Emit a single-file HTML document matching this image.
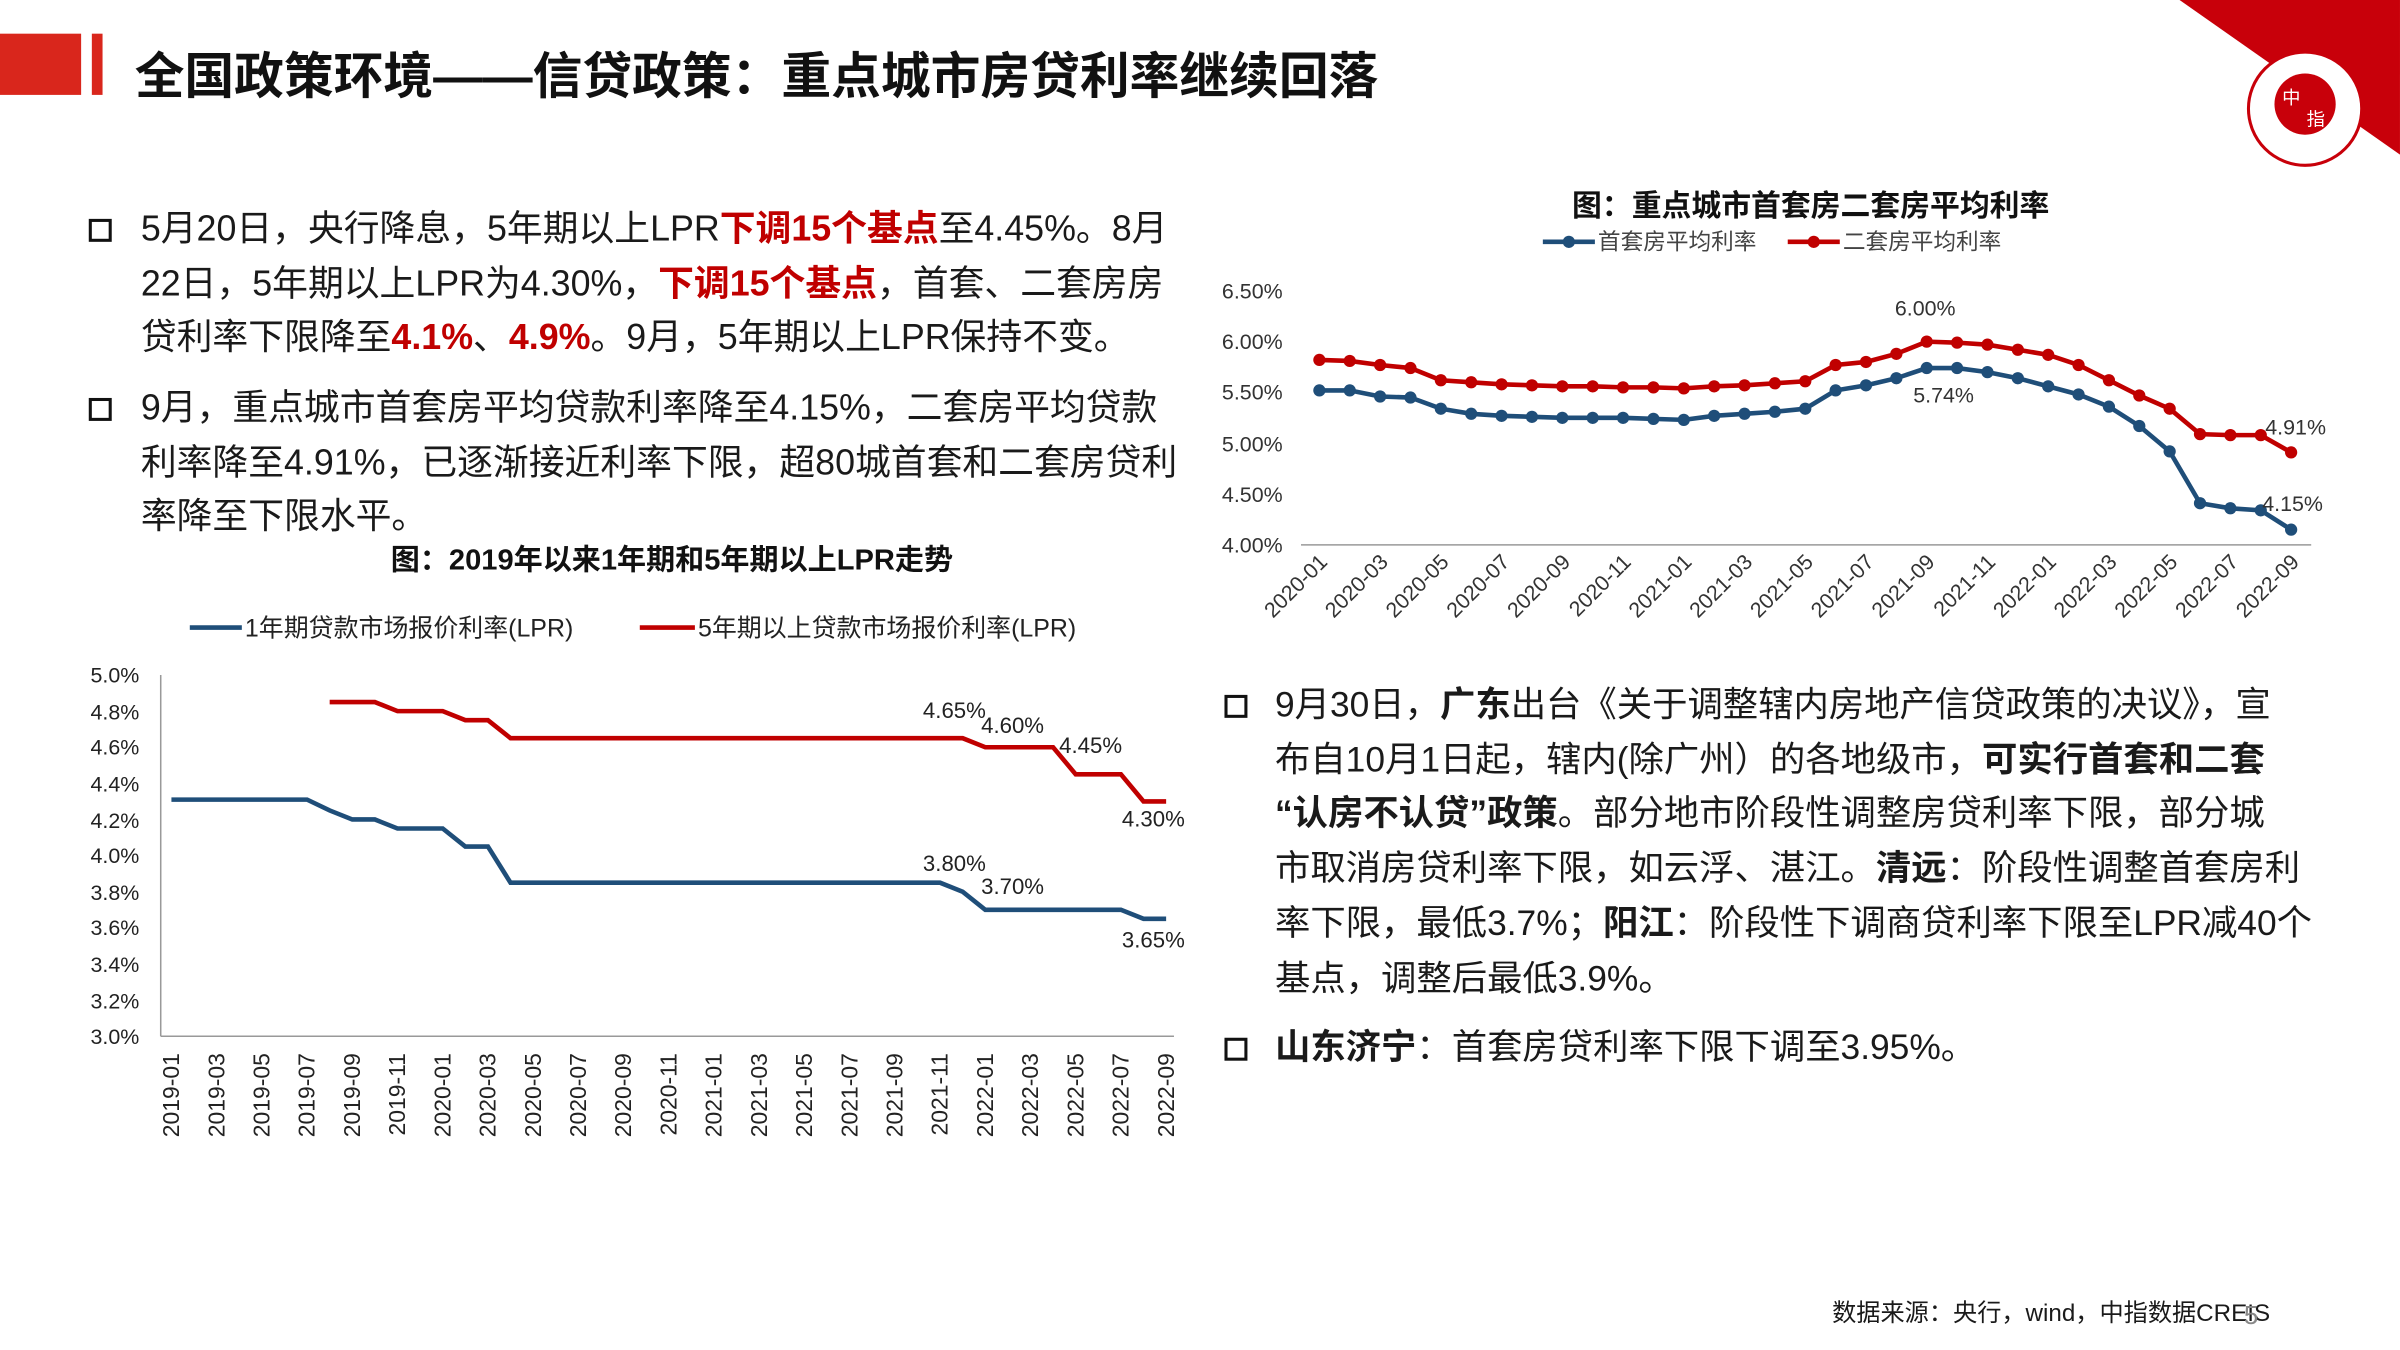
<!DOCTYPE html>
<html><head><meta charset="utf-8"><style>
html,body{margin:0;padding:0;background:#fff;width:2400px;height:1350px;overflow:hidden}
#w{position:absolute;left:0;top:0;width:1568px;height:882px;transform:scale(1.5306);transform-origin:0 0;font-family:"Liberation Sans","Noto Sans CJK SC",sans-serif;color:#1a1a1a}
.t{position:absolute;white-space:nowrap}
.p{position:absolute;font-size:23.4px;line-height:35.7px;white-space:nowrap}
.p2{font-size:23.1px}
.b{position:absolute;width:11px;height:11px;border:2.5px solid #111}
.r{color:#c00000;font-weight:bold}
.k{font-weight:bold}
</style></head><body><div id="w">
<div style="position:absolute;left:0;top:22px;width:53px;height:40px;background:#d9261c"></div>
<div style="position:absolute;left:60px;top:22px;width:7px;height:40px;background:#d9261c"></div>
<div class="t" style="left:88px;top:24px;font-size:32.5px;font-weight:bold;color:#111">全国政策环境——信贷政策：重点城市房贷利率继续回落</div>
<svg style="position:absolute;left:0;top:0" width="1568" height="882">
<polygon points="1424,0 1568,0 1568,101" fill="#c8000a"/>
<circle cx="1506" cy="71" r="37" fill="#fff" stroke="#c8000a" stroke-width="2"/>
<circle cx="1506" cy="68" r="20" fill="#c8000a"/>
<text x="1497" y="68" font-size="12" fill="#fff" text-anchor="middle">中</text>
<text x="1513" y="82" font-size="12" fill="#fff" text-anchor="middle">指</text>
</svg>

<div class="b" style="left:58px;top:143px"></div>
<div class="p" style="left:92px;top:132px">5月20日，央行降息，5年期以上LPR<span class="r">下调15个基点</span>至4.45%。8月<br>22日，5年期以上LPR为4.30%，<span class="r">下调15个基点</span>，首套、二套房房<br>贷利率下限降至<span class="r">4.1%</span>、<span class="r">4.9%</span>。9月，5年期以上LPR保持不变。</div>
<div class="b" style="left:58px;top:260px"></div>
<div class="p" style="left:92px;top:249px">9月，重点城市首套房平均贷款利率降至4.15%，二套房平均贷款<br>利率降至4.91%，已逐渐接近利率下限，超80城首套和二套房贷利<br>率降至下限水平。</div>

<div class="b" style="left:800px;top:454px"></div>
<div class="p p2" style="left:833px;top:443px">9月30日，<span class="k">广东</span>出台《关于调整辖内房地产信贷政策的决议》，宣<br>布自10月1日起，辖内(除广州）的各地级市，<span class="k">可实行首套和二套<br>“认房不认贷”政策</span>。部分地市阶段性调整房贷利率下限，部分城<br>市取消房贷利率下限，如云浮、湛江。<span class="k">清远</span>：阶段性调整首套房利<br>率下限，最低3.7%；<span class="k">阳江</span>：阶段性下调商贷利率下限至LPR减40个<br>基点，调整后最低3.9%。</div>
<div class="b" style="left:800px;top:678px"></div>
<div class="p p2" style="left:833px;top:667px"><span class="k">山东济宁</span>：首套房贷利率下限下调至3.95%。</div>

<div class="t" style="left:1197px;top:845px;font-size:15.8px">数据来源：央行，wind，中指数据CREIS</div>
<div class="t" style="left:1466px;top:850px;font-size:17px;color:#888">5</div>

<svg id="c" style="position:absolute;left:0;top:0" width="1568" height="882" font-family="Liberation Sans, Noto Sans CJK SC, sans-serif">
<text x="439" y="372" font-size="19" font-weight="bold" text-anchor="middle" fill="#111">图：2019年以来1年期和5年期以上LPR走势</text>
<line x1="124" y1="410" x2="158" y2="410" stroke="#1f4e79" stroke-width="3"/>
<text x="160" y="416" font-size="16.3" fill="#222">1年期贷款市场报价利率(LPR)</text>
<line x1="418" y1="410" x2="454" y2="410" stroke="#c00000" stroke-width="3"/>
<text x="456" y="416" font-size="16.3" fill="#222">5年期以上贷款市场报价利率(LPR)</text>
<line x1="105" y1="441" x2="105" y2="677" stroke="#999"/>
<line x1="105" y1="677" x2="767" y2="677" stroke="#999"/>
<g font-size="14" fill="#222" text-anchor="end">
<text x="91" y="446">5.0%</text><text x="91" y="470">4.8%</text><text x="91" y="493">4.6%</text><text x="91" y="517">4.4%</text><text x="91" y="541">4.2%</text><text x="91" y="564">4.0%</text><text x="91" y="588">3.8%</text><text x="91" y="611">3.6%</text><text x="91" y="635">3.4%</text><text x="91" y="659">3.2%</text><text x="91" y="682">3.0%</text>
</g>
<g id="lx" font-size="15" fill="#222" text-anchor="end"></g>
<g font-size="14.5" fill="#222">
<text x="603" y="469">4.65%</text><text x="641" y="479">4.60%</text><text x="692" y="492">4.45%</text><text x="733" y="540">4.30%</text>
<text x="603" y="569">3.80%</text><text x="641" y="584">3.70%</text><text x="733" y="619">3.65%</text>
</g>
<polyline id="l1" fill="none" stroke="#1f4e79" stroke-width="3"/>
<polyline id="l5" fill="none" stroke="#c00000" stroke-width="3"/>
<text x="1183" y="141" font-size="19.5" font-weight="bold" text-anchor="middle" fill="#111">图：重点城市首套房二套房平均利率</text>
<line x1="1008" y1="158" x2="1042" y2="158" stroke="#1f4e79" stroke-width="3"/><circle cx="1025" cy="158" r="4" fill="#1f4e79"/>
<text x="1044" y="163" font-size="14.8" fill="#444">首套房平均利率</text>
<line x1="1168" y1="158" x2="1202" y2="158" stroke="#c00000" stroke-width="3"/><circle cx="1185" cy="158" r="4" fill="#c00000"/>
<text x="1204" y="163" font-size="14.8" fill="#444">二套房平均利率</text>
<line x1="850" y1="356" x2="1510" y2="356" stroke="#999"/>
<g font-size="14" fill="#333" text-anchor="end">
<text x="838" y="195">6.50%</text><text x="838" y="228">6.00%</text><text x="838" y="261">5.50%</text><text x="838" y="295">5.00%</text><text x="838" y="328">4.50%</text><text x="838" y="361">4.00%</text>
</g>
<g id="rx" font-size="14" fill="#333" text-anchor="end"></g>
<polyline id="r1" fill="none" stroke="#1f4e79" stroke-width="3"/>
<polyline id="r2" fill="none" stroke="#c00000" stroke-width="3"/>
<g id="rm"></g>
<g font-size="14" fill="#333">
<text x="1238" y="206">6.00%</text><text x="1250" y="263">5.74%</text><text x="1480" y="284">4.91%</text><text x="1478" y="334">4.15%</text>
</g>
</svg>
</div>
<script>
var NS="http://www.w3.org/2000/svg";
function pts(arr,fx,fy){return arr.map(function(v,i){return v==null?null:fx(i)+","+fy(v)}).filter(Boolean).join(" ")}
var one=[4.31,4.31,4.31,4.31,4.31,4.31,4.31,4.25,4.20,4.20,4.15,4.15,4.15,4.05,4.05];
for(var i=15;i<=34;i++)one.push(3.85);one.push(3.80);
for(i=0;i<7;i++)one.push(3.70);one.push(3.65,3.65);
var five=[null,null,null,null,null,null,null,4.85,4.85,4.85,4.80,4.80,4.80,4.75,4.75];
for(i=15;i<=35;i++)five.push(4.65);five.push(4.60,4.60,4.60,4.60,4.45,4.45,4.45,4.30,4.30);
var lx=function(i){return 112+i*14.77},ly=function(v){return 677-(v-3)*118};
document.getElementById("l1").setAttribute("points",pts(one,lx,ly));
document.getElementById("l5").setAttribute("points",pts(five,lx,ly));
var b=[5.52,5.52,5.46,5.45,5.34,5.29,5.27,5.26,5.25,5.25,5.25,5.24,5.23,5.27,5.29,5.31,5.34,5.52,5.57,5.64,5.74,5.74,5.70,5.64,5.56,5.48,5.36,5.17,4.92,4.41,4.36,4.34,4.15];
var r=[5.82,5.81,5.77,5.74,5.62,5.60,5.58,5.57,5.56,5.56,5.55,5.55,5.54,5.56,5.57,5.59,5.61,5.77,5.80,5.88,6.00,5.99,5.97,5.92,5.87,5.77,5.62,5.47,5.34,5.09,5.08,5.08,4.91];
var rx=function(i){return 862+i*19.84},ry=function(v){return 356-(v-4)*66.4};
document.getElementById("r1").setAttribute("points",pts(b,rx,ry));
document.getElementById("r2").setAttribute("points",pts(r,rx,ry));
var g=document.getElementById("rm");
[[b,"#1f4e79"],[r,"#c00000"]].forEach(function(s){s[0].forEach(function(v,i){var c=document.createElementNS(NS,"circle");c.setAttribute("cx",rx(i));c.setAttribute("cy",ry(v));c.setAttribute("r",4);c.setAttribute("fill",s[1]);g.appendChild(c);});});
</script>
<script>
(function(){var NS="http://www.w3.org/2000/svg";
var L=document.getElementById("lx"),R=document.getElementById("rx");
var ll=["2019-01","2019-03","2019-05","2019-07","2019-09","2019-11","2020-01","2020-03","2020-05","2020-07","2020-09","2020-11","2021-01","2021-03","2021-05","2021-07","2021-09","2021-11","2022-01","2022-03","2022-05","2022-07","2022-09"];
ll.forEach(function(s,k){var x=112+k*2*14.77+5;var t=document.createElementNS(NS,"text");t.setAttribute("transform","translate("+x+",688) rotate(-90)");t.textContent=s;L.appendChild(t);});
var rl=["2020-01","2020-03","2020-05","2020-07","2020-09","2020-11","2021-01","2021-03","2021-05","2021-07","2021-09","2021-11","2022-01","2022-03","2022-05","2022-07","2022-09"];
rl.forEach(function(s,k){var x=862+k*2*19.84+6;var t=document.createElementNS(NS,"text");t.setAttribute("transform","translate("+x+",368) rotate(-45)");t.textContent=s;R.appendChild(t);});})();
</script>
</body></html>
